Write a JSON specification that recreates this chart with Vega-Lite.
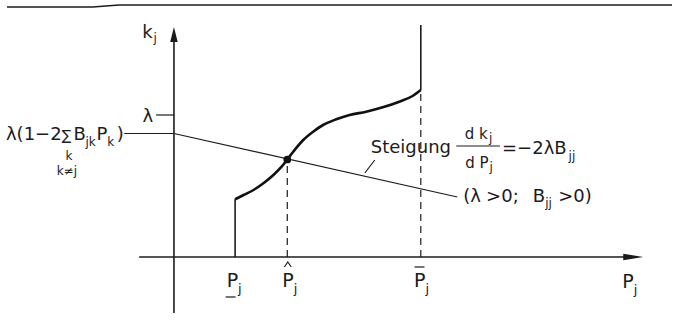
{
  "$schema": "https://vega.github.io/schema/vega-lite/v6.json",
  "width": 676,
  "height": 325,
  "autosize": {"type": "fit", "contains": "padding"},
  "padding": 0,
  "background": "white",
  "config": {"view": {"stroke": null}},
  "datasets": {
    "strokes": [
      {"part": "frame", "i": 0, "x": -1.68, "y": 2.50},
      {"part": "frame", "i": 1, "x": -0.82, "y": 2.50},
      {"part": "frame", "i": 2, "x": -0.55, "y": 2.52},
      {"part": "frame", "i": 3, "x": 5.01, "y": 2.52},
      {"part": "yaxis", "i": 0, "x": 0, "y": -0.56},
      {"part": "yaxis", "i": 1, "x": 0, "y": 2.24},
      {"part": "xaxis", "i": 0, "x": -0.35, "y": 0},
      {"part": "xaxis", "i": 1, "x": 4.62, "y": 0},
      {"part": "lambda_tick", "i": 0, "x": -0.18, "y": 1.42},
      {"part": "lambda_tick", "i": 1, "x": 0, "y": 1.42},
      {"part": "intercept_tick", "i": 0, "x": -0.50, "y": 1.235},
      {"part": "intercept_tick", "i": 1, "x": 0, "y": 1.235},
      {"part": "price_line", "i": 0, "x": 0, "y": 1.235},
      {"part": "price_line", "i": 1, "x": 2.85, "y": 0.60},
      {"part": "leader", "i": 0, "x": 2.02, "y": 0.97},
      {"part": "leader", "i": 1, "x": 1.92, "y": 0.84},
      {"part": "floor", "i": 0, "x": 0.615, "y": 0},
      {"part": "floor", "i": 1, "x": 0.615, "y": 0.577},
      {"part": "cap", "i": 0, "x": 2.483, "y": 1.67},
      {"part": "cap", "i": 1, "x": 2.483, "y": 2.32},
      {"part": "fracbar", "i": 0, "x": 2.84, "y": 1.11},
      {"part": "fracbar", "i": 1, "x": 3.28, "y": 1.11},
      {"part": "underbar", "i": 0, "x": 0.52, "y": -0.40},
      {"part": "underbar", "i": 1, "x": 0.62, "y": -0.40},
      {"part": "hat", "i": 0, "x": 1.11, "y": -0.10},
      {"part": "hat", "i": 1, "x": 1.145, "y": -0.05},
      {"part": "hat", "i": 2, "x": 1.18, "y": -0.10},
      {"part": "overbar", "i": 0, "x": 2.42, "y": -0.10},
      {"part": "overbar", "i": 1, "x": 2.52, "y": -0.10},
      {"part": "guide_hat", "i": 0, "x": 1.14, "y": 0},
      {"part": "guide_hat", "i": 1, "x": 1.14, "y": 0.975},
      {"part": "guide_bar", "i": 0, "x": 2.483, "y": 0},
      {"part": "guide_bar", "i": 1, "x": 2.483, "y": 1.67}
    ],
    "cost_curve": [
      {"i": 0, "x": 0.615, "y": 0.577},
      {"i": 1, "x": 0.70, "y": 0.62},
      {"i": 2, "x": 0.80, "y": 0.67},
      {"i": 3, "x": 0.90, "y": 0.737},
      {"i": 4, "x": 1.00, "y": 0.82},
      {"i": 5, "x": 1.083, "y": 0.903},
      {"i": 6, "x": 1.14, "y": 0.975},
      {"i": 7, "x": 1.20, "y": 1.053},
      {"i": 8, "x": 1.30, "y": 1.17},
      {"i": 9, "x": 1.40, "y": 1.253},
      {"i": 10, "x": 1.50, "y": 1.32},
      {"i": 11, "x": 1.633, "y": 1.377},
      {"i": 12, "x": 1.767, "y": 1.42},
      {"i": 13, "x": 1.933, "y": 1.453},
      {"i": 14, "x": 2.10, "y": 1.497},
      {"i": 15, "x": 2.267, "y": 1.553},
      {"i": 16, "x": 2.40, "y": 1.61},
      {"i": 17, "x": 2.483, "y": 1.67}
    ],
    "arrows": [
      {"dir": "up", "x": 0, "y": 2.225},
      {"dir": "right", "x": 4.62, "y": 0}
    ],
    "optimum": [{"x": 1.14, "y": 0.975}],
    "labels": [
      {"role": "main", "t": "k", "x": -0.32, "y": 2.19},
      {"role": "sub", "t": "j", "x": -0.205, "y": 2.15},
      {"role": "main_right", "t": "λ", "x": -0.21, "y": 1.35},
      {"role": "main_right", "t": "λ(1−2", "x": -1.13, "y": 1.17},
      {"role": "sum", "t": "∑", "x": -1.13, "y": 1.17},
      {"role": "main", "t": "B", "x": -1.01, "y": 1.17},
      {"role": "sub", "t": "jk", "x": -0.89, "y": 1.11},
      {"role": "main", "t": "P", "x": -0.78, "y": 1.17},
      {"role": "sub", "t": "k", "x": -0.67, "y": 1.11},
      {"role": "main", "t": ")", "x": -0.575, "y": 1.17},
      {"role": "sub", "t": "k", "x": -1.09, "y": 0.97},
      {"role": "sub", "t": "k≠j", "x": -1.18, "y": 0.82},
      {"role": "main", "t": "Steigung", "x": 1.98, "y": 1.04},
      {"role": "frac", "t": "d k", "x": 2.925, "y": 1.18},
      {"role": "sub", "t": "j", "x": 3.17, "y": 1.15},
      {"role": "frac", "t": "d P", "x": 2.93, "y": 0.89},
      {"role": "sub", "t": "j", "x": 3.175, "y": 0.86},
      {"role": "main", "t": "=−2λB", "x": 3.30, "y": 1.03},
      {"role": "sub", "t": "jj", "x": 3.97, "y": 0.97},
      {"role": "main", "t": "(λ", "x": 2.91, "y": 0.55},
      {"role": "main", "t": ">0;", "x": 3.14, "y": 0.55},
      {"role": "main", "t": "B", "x": 3.61, "y": 0.55},
      {"role": "sub", "t": "jj", "x": 3.735, "y": 0.50},
      {"role": "main", "t": ">0)", "x": 3.865, "y": 0.55},
      {"role": "axis", "t": "P", "x": 0.53, "y": -0.30},
      {"role": "axis_sub", "t": "j", "x": 0.645, "y": -0.36},
      {"role": "axis", "t": "P", "x": 1.09, "y": -0.30},
      {"role": "axis_sub", "t": "j", "x": 1.205, "y": -0.36},
      {"role": "axis", "t": "P", "x": 2.415, "y": -0.30},
      {"role": "axis_sub", "t": "j", "x": 2.53, "y": -0.36},
      {"role": "axis", "t": "P", "x": 4.51, "y": -0.31},
      {"role": "axis_sub", "t": "j", "x": 4.625, "y": -0.37}
    ]
  },
  "encoding": {
    "x": {"field": "x", "type": "quantitative", "axis": null,
          "scale": {"domain": [-1.75, 5.01], "nice": false, "zero": false}},
    "y": {"field": "y", "type": "quantitative", "axis": null,
          "scale": {"domain": [-0.68, 2.57], "nice": false, "zero": false}}
  },
  "layer": [
    {
      "data": {"name": "strokes"},
      "transform": [{"filter": "indexof(['frame','yaxis','xaxis','floor','cap'], datum.part) >= 0"}],
      "mark": {"type": "line", "color": "#1c1c1c", "strokeWidth": 1.6},
      "encoding": {"detail": {"field": "part"}, "order": {"field": "i"}}
    },
    {
      "data": {"name": "strokes"},
      "transform": [{"filter": "indexof(['lambda_tick','intercept_tick','price_line','leader','fracbar','underbar','hat','overbar'], datum.part) >= 0"}],
      "mark": {"type": "line", "color": "#1c1c1c", "strokeWidth": 1.2},
      "encoding": {"detail": {"field": "part"}, "order": {"field": "i"}}
    },
    {
      "data": {"name": "strokes"},
      "transform": [{"filter": "indexof(['guide_hat','guide_bar'], datum.part) >= 0"}],
      "mark": {"type": "line", "color": "#1c1c1c", "strokeWidth": 1.2, "strokeDash": [7, 5]},
      "encoding": {"detail": {"field": "part"}, "order": {"field": "i"}}
    },
    {
      "data": {"name": "cost_curve"},
      "mark": {"type": "line", "color": "#111111", "strokeWidth": 2.6, "interpolate": "monotone"},
      "encoding": {"order": {"field": "i"}}
    },
    {
      "data": {"name": "arrows"},
      "transform": [{"filter": "datum.dir === 'up'"}],
      "mark": {"type": "point", "filled": true, "color": "#1c1c1c", "opacity": 1,
               "shape": "M0,-1L0.5,1L-0.5,1Z", "size": 225}
    },
    {
      "data": {"name": "arrows"},
      "transform": [{"filter": "datum.dir === 'right'"}],
      "mark": {"type": "point", "filled": true, "color": "#1c1c1c", "opacity": 1,
               "shape": "M1,0L-1,0.33L-1,-0.33Z", "size": 400}
    },
    {
      "data": {"name": "optimum"},
      "mark": {"type": "point", "filled": true, "color": "#111111", "opacity": 1, "size": 60}
    },
    {
      "data": {"name": "labels"},
      "transform": [{"filter": "datum.role === 'main'"}],
      "mark": {"type": "text", "font": "DejaVu Sans", "fontSize": 18, "align": "left", "baseline": "alphabetic", "color": "#1c1c1c"},
      "encoding": {"text": {"field": "t"}}
    },
    {
      "data": {"name": "labels"},
      "transform": [{"filter": "datum.role === 'main_right'"}],
      "mark": {"type": "text", "font": "DejaVu Sans", "fontSize": 18, "align": "right", "baseline": "alphabetic", "color": "#1c1c1c"},
      "encoding": {"text": {"field": "t"}}
    },
    {
      "data": {"name": "labels"},
      "transform": [{"filter": "datum.role === 'frac'"}],
      "mark": {"type": "text", "font": "DejaVu Sans", "fontSize": 15, "align": "left", "baseline": "alphabetic", "color": "#1c1c1c"},
      "encoding": {"text": {"field": "t"}}
    },
    {
      "data": {"name": "labels"},
      "transform": [{"filter": "datum.role === 'sum'"}],
      "mark": {"type": "text", "font": "DejaVu Sans", "fontSize": 14, "align": "left", "baseline": "alphabetic", "color": "#1c1c1c"},
      "encoding": {"text": {"field": "t"}}
    },
    {
      "data": {"name": "labels"},
      "transform": [{"filter": "datum.role === 'sub'"}],
      "mark": {"type": "text", "font": "DejaVu Sans", "fontSize": 12, "align": "left", "baseline": "alphabetic", "color": "#1c1c1c"},
      "encoding": {"text": {"field": "t"}}
    },
    {
      "data": {"name": "labels"},
      "transform": [{"filter": "datum.role === 'axis'"}],
      "mark": {"type": "text", "font": "DejaVu Sans", "fontSize": 19, "align": "left", "baseline": "alphabetic", "color": "#1c1c1c"},
      "encoding": {"text": {"field": "t"}}
    },
    {
      "data": {"name": "labels"},
      "transform": [{"filter": "datum.role === 'axis_sub'"}],
      "mark": {"type": "text", "font": "DejaVu Sans", "fontSize": 13, "align": "left", "baseline": "alphabetic", "color": "#1c1c1c"},
      "encoding": {"text": {"field": "t"}}
    }
  ]
}
